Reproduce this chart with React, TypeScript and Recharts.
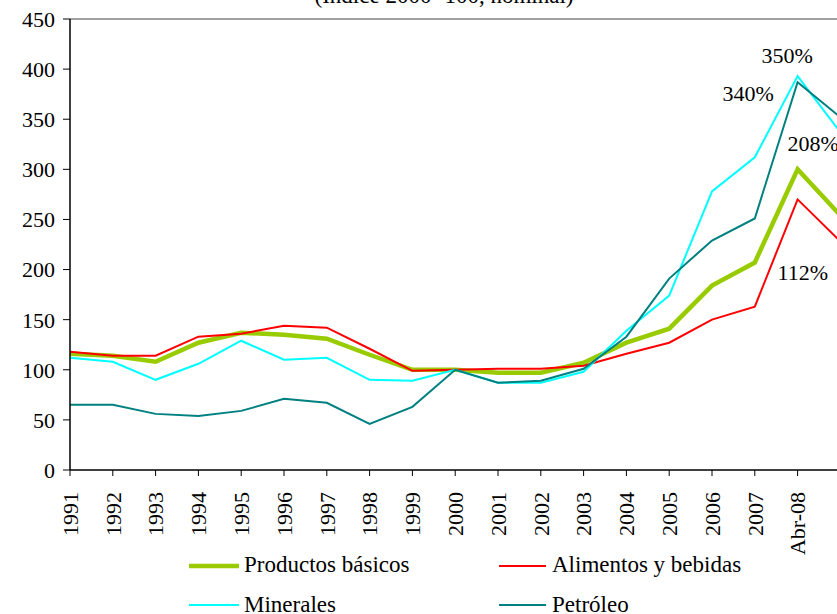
import { LineChart, Line, XAxis, YAxis, ReferenceLine } from 'recharts';

const categories = [
  '1991', '1992', '1993', '1994', '1995', '1996', '1997', '1998', '1999', '2000',
  '2001', '2002', '2003', '2004', '2005', '2006', '2007', 'Abr-08', 'May-08',
];
const productos = [116, 114, 108, 127, 137, 135, 131, 115, 100, 100, 97, 97, 107, 127, 141, 184, 207, 300, 254];
const alimentos = [118, 114, 114, 133, 136, 144, 142, 121, 99, 100, 101, 101, 104, 116, 127, 150, 163, 270, 228];
const minerales = [112, 108, 90, 106, 129, 110, 112, 90, 89, 100, 87, 87, 98, 139, 174, 278, 312, 393, 337];
const petroleo = [65, 65, 56, 54, 59, 71, 67, 46, 63, 100, 87, 89, 101, 133, 191, 229, 251, 387, 352];
const yTicks = [0, 50, 100, 150, 200, 250, 300, 350, 400, 450];
const annotationLabels: Record<string, string> = {
  productos: '208%',
  alimentos: '112%',
  minerales: '350%',
  petroleo: '340%',
};
const annotatedCategory = 'Abr-08';
const title = '(Índice 2000=100, nominal)';

const data = categories.map((name, i) => ({
  name,
  productos: productos[i],
  alimentos: alimentos[i],
  minerales: minerales[i],
  petroleo: petroleo[i],
}));

const FONT = 'Liberation Serif';

// style per series: colour, width, legend slot and where its note sits
const series = [
  { key: 'productos', name: 'Productos básicos', color: '#99CC00', width: 4.5, col: 0, row: 0, dx: -10, dy: -18 },
  { key: 'alimentos', name: 'Alimentos y bebidas', color: '#FF0000', width: 2, col: 1, row: 0, dx: -20, dy: 81 },
  { key: 'minerales', name: 'Minerales', color: '#00FFFF', width: 2, col: 0, row: 1, dx: -36, dy: -13 },
  { key: 'petroleo', name: 'Petróleo', color: '#008080', width: 2, col: 1, row: 1, dx: -75, dy: 19 },
];

const legendCols = [{ x1: 189, x2: 239, tx: 244 }, { x1: 499, x2: 546, tx: 552 }];
const legendRows = [{ ly: 566, ty: 572 }, { ly: 605, ty: 611.5 }];

// the last category sits just past the picture's right edge, its label is not shown
const lastCategory = categories[categories.length - 1];

const XTick = (props: any) => {
  const { x, y, payload } = props;
  if (payload.value === lastCategory) return <g />;
  return (
    <g transform={`translate(${x},${y})`}>
      <text transform="rotate(-90)" textAnchor="end" dy="0.35em" fontSize={22} fontFamily={FONT} fill="#000">
        {payload.value}
      </text>
    </g>
  );
};

const YTick = (props: any) => {
  const { x, y, payload } = props;
  return (
    <text x={x} y={y} dy="0.36em" textAnchor="end" fontSize={22} fontFamily={FONT} fill="#000">
      {payload.value}
    </text>
  );
};

const annIndex = categories.indexOf(annotatedCategory);

const makeLabel = (s: (typeof series)[number]) => (p: any) => {
  if (p.index !== annIndex) return null;
  return (
    <text x={p.x + s.dx} y={p.y + s.dy} fontSize={22} fontFamily={FONT} fill="#000" textAnchor="start">
      {annotationLabels[s.key]}
    </text>
  );
};

export default function App() {
  return (
    <div
      style={{
        position: 'fixed',
        left: 0,
        top: 0,
        width: 837,
        height: 614,
        overflow: 'hidden',
        background: '#fff',
        fontFamily: FONT,
      }}
    >
      <LineChart width={850} height={614} data={data} margin={{ top: 19, right: 9.6, left: 0, bottom: 64 }}>
        <ReferenceLine y={450} stroke="#808080" strokeWidth={1.5} />
        <XAxis
          dataKey="name"
          scale="point"
          padding={{ left: 0, right: 0 }}
          interval={0}
          height={80}
          tickSize={6}
          tickMargin={16}
          axisLine={{ stroke: '#000', strokeWidth: 1.5 }}
          tickLine={{ stroke: '#000' }}
          tick={(p: any) => <XTick {...p} />}
        />
        <YAxis
          type="number"
          domain={[0, 450]}
          ticks={yTicks}
          interval={0}
          width={70}
          tickSize={7}
          tickMargin={8}
          axisLine={{ stroke: '#000', strokeWidth: 1.5 }}
          tickLine={{ stroke: '#000' }}
          tick={(p: any) => <YTick {...p} />}
        />
        {series.map((s) => (
          <Line
            key={s.key}
            type="linear"
            dataKey={s.key}
            name={s.name}
            stroke={s.color}
            strokeWidth={s.width}
            dot={false}
            activeDot={false}
            isAnimationActive={false}
            label={makeLabel(s)}
          />
        ))}
      </LineChart>
      <svg
        width={837}
        height={614}
        style={{ position: 'absolute', left: 0, top: 0, pointerEvents: 'none' }}
      >
        <text x={444} y={3} textAnchor="middle" fontSize={23} fontFamily={FONT} fill="#000">
          {title}
        </text>
        {series.map((s) => {
          const c = legendCols[s.col];
          const r = legendRows[s.row];
          return (
            <g key={s.key}>
              <line x1={c.x1} x2={c.x2} y1={r.ly} y2={r.ly} stroke={s.color} strokeWidth={s.width} />
              <text x={c.tx} y={r.ty} fontSize={23} fontFamily={FONT} fill="#000">
                {s.name}
              </text>
            </g>
          );
        })}
      </svg>
    </div>
  );
}
